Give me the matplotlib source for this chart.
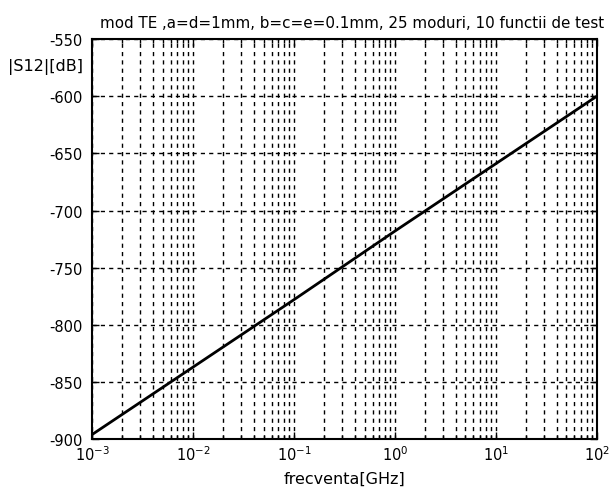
import matplotlib
matplotlib.use('Agg')
import matplotlib.pyplot as plt
from matplotlib.ticker import LogLocator, FixedLocator

# values
freq_ghz = [1e-3, 1e-2, 1e-1, 1e0, 1e1, 1e2]
s12_db = [-896, -837, -778, -718, -659, -600]
y_ticks = [-900, -850, -800, -750, -700, -650, -600, -550]

plt.rcParams['font.family'] = ['DejaVu Sans']
plt.rcParams['font.size'] = 10
plt.rcParams['axes.unicode_minus'] = False

fig = plt.figure(figsize=(6.14, 4.89), dpi=100)
ax = fig.add_axes([0.150, 0.100, 0.822, 0.818])

ax.semilogx(freq_ghz, s12_db, color='black', linewidth=2)

ax.set_xlim(1e-3, 1e2)
ax.set_ylim(-900, -550)
ax.yaxis.set_major_locator(FixedLocator(y_ticks))
ax.xaxis.set_major_locator(LogLocator(base=10, numticks=10))
ax.xaxis.set_minor_locator(LogLocator(base=10, subs=range(2, 10), numticks=20))

ax.grid(True, which='major', color='black', linestyle=(0, (3, 3)), linewidth=1)
ax.grid(True, which='minor', axis='x', color='black', linestyle=(0, (3, 3)), linewidth=1)

ax.tick_params(which='both', direction='in', top=True, right=True, width=1)
ax.tick_params(which='major', length=5, labelsize=10.5)
ax.tick_params(axis='y', pad=7)
ax.tick_params(which='minor', length=3)
for sp in ax.spines.values():
    sp.set_linewidth(1.5)

ax.set_title('mod TE ,a=d=1mm, b=c=e=0.1mm, 25 moduri, 10 functii de test',
             fontsize=10.9, x=0.516, pad=9)
ax.set_xlabel('frecventa[GHz]', fontsize=11.5, labelpad=6)
fig.text(0.013, 0.863, '|S12|[dB]', fontsize=11.5, ha='left', va='center')

fig.savefig('out.png', dpi=100)
